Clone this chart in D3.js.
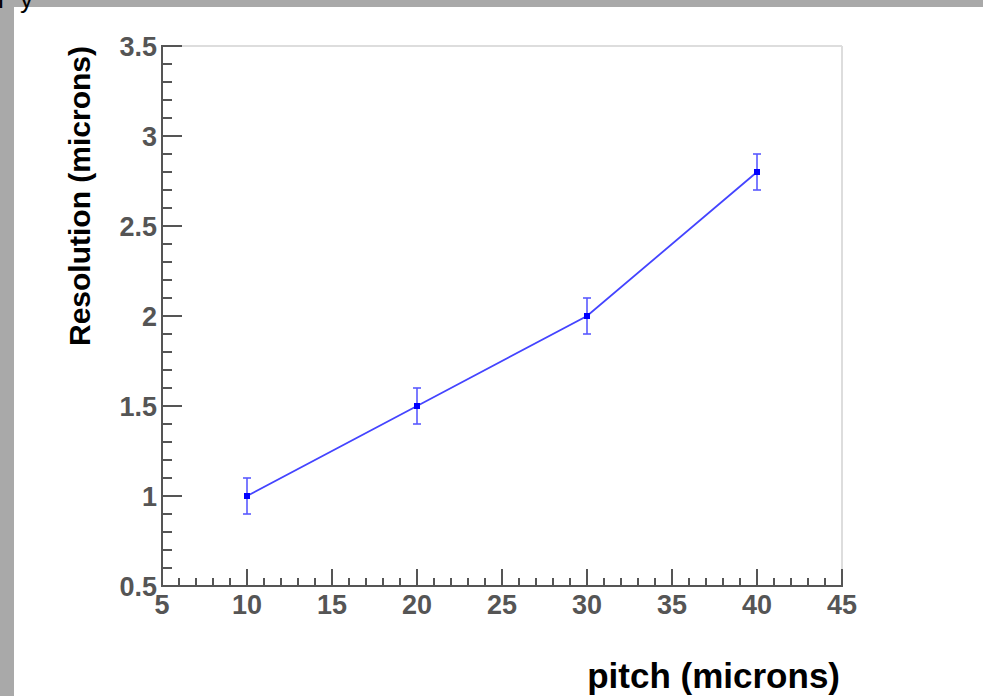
<!DOCTYPE html>
<html><head><meta charset="utf-8">
<script src="https://cdn.jsdelivr.net/npm/d3@7"></script>
<style>
html,body{margin:0;padding:0;background:#fff;}
svg{display:block;}
</style></head>
<body>
<script>
const pitch = [10, 20, 30, 40];
const resolution = [1.0, 1.5, 2.0, 2.8];
const resolutionErr = [0.1, 0.1, 0.1, 0.1];
const xTicks = [5, 10, 15, 20, 25, 30, 35, 40, 45];
const yTicks = [0.5, 1, 1.5, 2, 2.5, 3, 3.5];
const xTitle = "pitch (microns)";
const yTitle = "Resolution (microns)";

const W = 983, H = 696;
const svg = d3.select("body").append("svg").attr("width", W).attr("height", H);

// window frame
svg.append("rect").attr("x", 0).attr("y", 0).attr("width", W).attr("height", 7).attr("fill", "#a9a9a9");
svg.append("rect").attr("x", 0).attr("y", 0).attr("width", 14).attr("height", H).attr("fill", "#a9a9a9");
const frag = svg.append("text").attr("y", 8).attr("font-family", "Liberation Sans, Arial, sans-serif")
  .attr("font-size", 26).attr("fill", "#000");
frag.append("tspan").attr("x", -2).text("r");
frag.append("tspan").attr("x", 20).text("y");

const L = 162, R = 842, T = 46, B = 586;
const x = d3.scaleLinear().domain([5, 45]).range([L, R]);
const y = d3.scaleLinear().domain([0.5, 3.5]).range([B, T]);

const axisColor = "#555";
const font = "Liberation Sans, Arial, Helvetica, sans-serif";

// frame (top and right)
svg.append("line").attr("x1", L).attr("x2", R).attr("y1", T).attr("y2", T).attr("stroke", "#ddd").attr("stroke-width", 2);
svg.append("line").attr("x1", R).attr("x2", R).attr("y1", T).attr("y2", B).attr("stroke", "#ddd").attr("stroke-width", 2);

// minor ticks
const xMinor = d3.range(5, 45.001, 1);
const yMinor = d3.range(0.5, 3.5001, 0.1);

const gx = svg.append("g");
gx.selectAll("line.minor").data(xMinor).join("line")
  .attr("x1", d => x(d)).attr("x2", d => x(d)).attr("y1", B).attr("y2", B - 8)
  .attr("stroke", axisColor).attr("stroke-width", 2);
gx.selectAll("line.major").data(xTicks).join("line").attr("class", "major")
  .attr("x1", d => x(d)).attr("x2", d => x(d)).attr("y1", B).attr("y2", B - 17)
  .attr("stroke", axisColor).attr("stroke-width", 2);
gx.append("line").attr("x1", L).attr("x2", R + 1).attr("y1", B).attr("y2", B).attr("stroke", axisColor).attr("stroke-width", 2);
gx.selectAll("text").data(xTicks).join("text")
  .attr("x", d => x(d)).attr("y", 614).attr("text-anchor", "middle")
  .attr("font-family", font).attr("font-weight", "bold").attr("font-size", 27).attr("fill", axisColor)
  .text(d => d);

const gy = svg.append("g");
gy.selectAll("line.minor").data(yMinor).join("line")
  .attr("x1", L).attr("x2", L + 10).attr("y1", d => y(d)).attr("y2", d => y(d))
  .attr("stroke", axisColor).attr("stroke-width", 2);
gy.selectAll("line.major").data(yTicks).join("line").attr("class", "major")
  .attr("x1", L).attr("x2", L + 20).attr("y1", d => y(d)).attr("y2", d => y(d))
  .attr("stroke", axisColor).attr("stroke-width", 2);
gy.append("line").attr("x1", L).attr("x2", L).attr("y1", T - 1).attr("y2", B + 1).attr("stroke", axisColor).attr("stroke-width", 2);
gy.selectAll("text").data(yTicks).join("text")
  .attr("x", 157).attr("y", d => y(d) + 9.5).attr("text-anchor", "end")
  .attr("font-family", font).attr("font-weight", "bold").attr("font-size", 27).attr("fill", axisColor)
  .text(d => d);

// titles
svg.append("text").attr("x", 840).attr("y", 688).attr("text-anchor", "end")
  .attr("font-family", font).attr("font-weight", "bold").attr("font-size", 35).attr("fill", "#000")
  .text(xTitle);
svg.append("text").attr("transform", "translate(90,46) rotate(-90)").attr("text-anchor", "end")
  .attr("font-family", font).attr("font-weight", "bold").attr("font-size", 30).attr("fill", "#000")
  .text(yTitle);

// data
const pts = pitch.map((p, i) => ({x: p, y: resolution[i], e: resolutionErr[i]}));
const line = d3.line().x(d => x(d.x)).y(d => y(d.y));
svg.append("path").datum(pts).attr("d", line).attr("fill", "none").attr("stroke", "#4444ff").attr("stroke-width", 1.8);

const eb = svg.append("g").attr("stroke", "#5a5aff").attr("stroke-width", 1.6);
eb.selectAll("line.v").data(pts).join("line").attr("class", "v")
  .attr("x1", d => x(d.x)).attr("x2", d => x(d.x)).attr("y1", d => y(d.y + d.e)).attr("y2", d => y(d.y - d.e));
eb.selectAll("line.t").data(pts).join("line").attr("class", "t")
  .attr("x1", d => x(d.x) - 4).attr("x2", d => x(d.x) + 4).attr("y1", d => y(d.y + d.e)).attr("y2", d => y(d.y + d.e));
eb.selectAll("line.b").data(pts).join("line").attr("class", "b")
  .attr("x1", d => x(d.x) - 4).attr("x2", d => x(d.x) + 4).attr("y1", d => y(d.y - d.e)).attr("y2", d => y(d.y - d.e));

svg.append("g").selectAll("rect").data(pts).join("rect")
  .attr("x", d => x(d.x) - 3).attr("y", d => y(d.y) - 3).attr("width", 6).attr("height", 6).attr("fill", "#0000ff");
</script>
</body></html>
